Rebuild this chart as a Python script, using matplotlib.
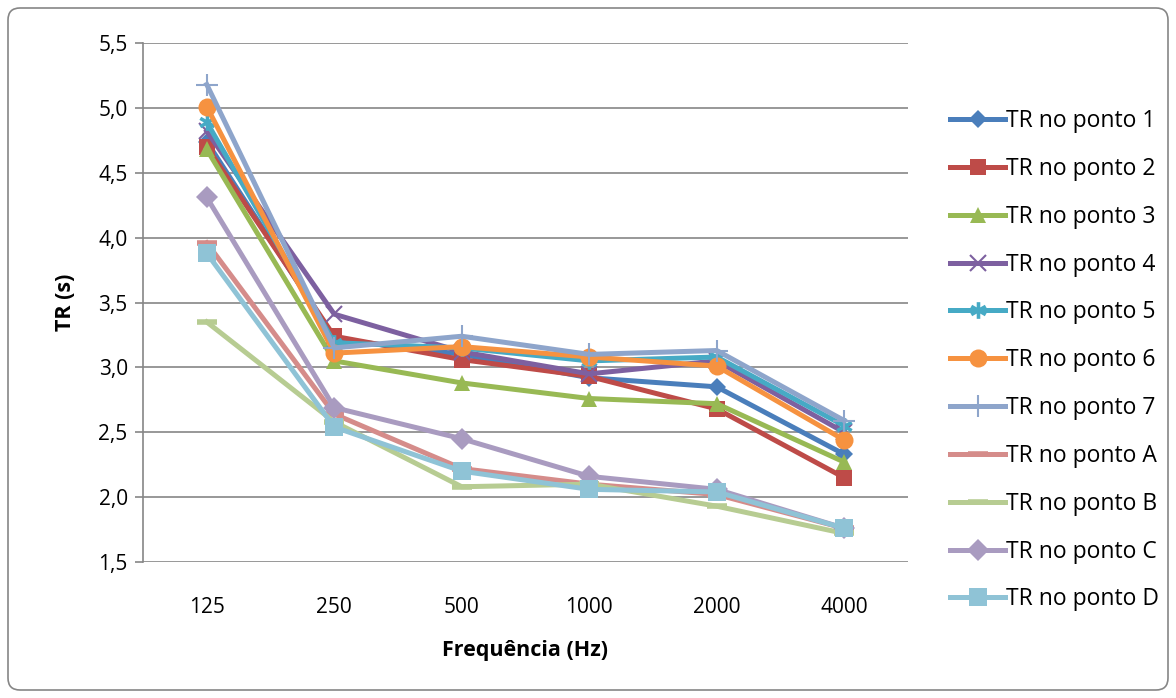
import matplotlib
matplotlib.use('Agg')
import matplotlib.pyplot as plt
from matplotlib.patches import FancyBboxPatch
from matplotlib.ticker import FuncFormatter

plt.rcParams['font.family'] = ['Open Sans', 'DejaVu Sans']

freqs = ["125", "250", "500", "1000", "2000", "4000"]

series_names = [
    "TR no ponto 1", "TR no ponto 2", "TR no ponto 3", "TR no ponto 4",
    "TR no ponto 5", "TR no ponto 6", "TR no ponto 7",
    "TR no ponto A", "TR no ponto B", "TR no ponto C", "TR no ponto D",
]

tr_1 = [4.74, 3.22, 3.10, 2.92, 2.85, 2.33]
tr_2 = [4.70, 3.24, 3.06, 2.93, 2.68, 2.15]
tr_3 = [4.68, 3.05, 2.88, 2.76, 2.72, 2.27]
tr_4 = [4.82, 3.41, 3.12, 2.95, 3.05, 2.50]
tr_5 = [4.89, 3.19, 3.15, 3.05, 3.08, 2.55]
tr_6 = [5.01, 3.11, 3.16, 3.08, 3.01, 2.44]
tr_7 = [5.18, 3.15, 3.24, 3.10, 3.13, 2.59]
tr_a = [3.96, 2.64, 2.22, 2.10, 2.02, 1.76]
tr_b = [3.35, 2.58, 2.08, 2.10, 1.93, 1.72]
tr_c = [4.31, 2.69, 2.45, 2.16, 2.06, 1.76]
tr_d = [3.88, 2.54, 2.20, 2.06, 2.04, 1.76]

all_series = [tr_1, tr_2, tr_3, tr_4, tr_5, tr_6, tr_7, tr_a, tr_b, tr_c, tr_d]

colors = ['#4A7EBB', '#BE4B48', '#98B954', '#7D60A0', '#46AAC5', '#F69240',
          '#8EA5CB', '#D58C8A', '#B7CC92', '#A99BC0', '#8FC3D6']
markers = ['D', 's', '^', 'x', '$\u2731$', 'o', '+', '_', '_', 'D', 's']
msizes = [9, 12, 12, 11, 12, 13, 16, 14, 14, 11, 13]

fig = plt.figure(figsize=(11.76, 6.98), dpi=100)
ax = fig.add_axes([143 / 1176, 1 - 562 / 698, (908 - 143) / 1176, (562 - 43) / 698])

x = list(range(len(freqs)))
for vals, name, c, m, ms in zip(all_series, series_names, colors, markers, msizes):
    mew = 1.5 if m in ('x', '+') else 0
    if m == '_':
        mew = 4
    ax.plot(x, vals, color=c, lw=3.6, marker=m, ms=ms, mfc=c, mec=c,
            mew=mew, label=name, solid_joinstyle='miter')

ax.set_xlim(-0.5, 5.5)
ax.set_ylim(1.5, 5.5)
ax.set_xticks(x)
ax.set_xticklabels(freqs)
ax.set_yticks([1.5, 2.0, 2.5, 3.0, 3.5, 4.0, 4.5, 5.0, 5.5])
ax.yaxis.set_major_formatter(FuncFormatter(lambda v, p: f"{v:.1f}".replace('.', ',')))
ax.grid(axis='y', color='#868686', lw=1.2)
ax.set_axisbelow(True)
for s in ['top', 'right', 'bottom']:
    ax.spines[s].set_visible(False)
ax.spines['left'].set_color('#868686')
ax.spines['left'].set_linewidth(1.2)
ax.tick_params(axis='y', length=6, color='#868686', width=1.2, labelsize=15, pad=5)
ax.tick_params(axis='x', length=0, labelsize=15, pad=25)

ax.set_ylabel("TR (s)", fontsize=15.5, fontweight='bold', labelpad=16)
ax.set_xlabel("Frequência (Hz)", fontsize=15.5, fontweight='bold', labelpad=16)

fig.legend(loc='upper left', bbox_to_anchor=(941 / 1176, 1 - 100 / 698),
           frameon=False, fontsize=16.5, handlelength=2.4, handletextpad=0.05,
           labelspacing=1.04, borderaxespad=0)

# rounded outer frame
frame = FancyBboxPatch((8, 8), 1160, 682, boxstyle="round,pad=0,rounding_size=12",
                       transform=None, fill=False, edgecolor='#868686', lw=1.2)
fig.patches.append(frame)

plt.savefig("out.png", dpi=100)
plt.close(fig)
